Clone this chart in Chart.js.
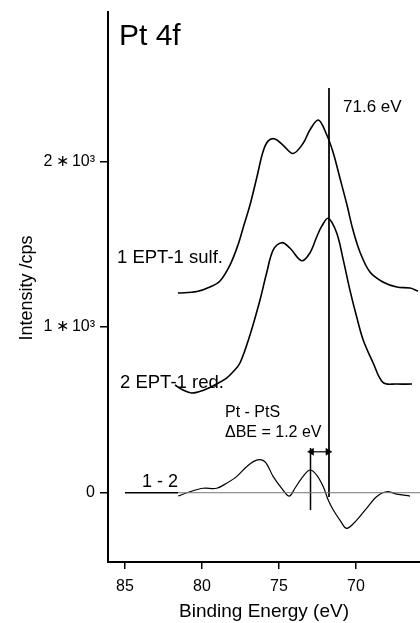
<!DOCTYPE html>
<html>
<head>
<meta charset="utf-8">
<script src="https://cdn.jsdelivr.net/npm/chart.js@4"></script>
<style>
  body { margin: 0; background: #fff; }
  #wrap { width: 420px; height: 623px; }
</style>
</head>
<body>
<div id="wrap"><canvas id="chart" width="420" height="623"></canvas></div>
<script>
// binding energy (eV) and intensity (cps)
const sulfE = [81.56, 80.32, 79.48, 78.83, 78.18, 77.66, 77.27, 76.88, 76.43, 76.04, 75.71, 75.26, 74.74, 74.09, 73.44, 72.99, 72.44, 71.92, 71.49, 71.04, 70.58, 70.19, 69.74, 69.09, 68.25, 67.34, 66.49, 65.97];
const sulfI = [1205, 1214, 1241, 1278, 1374, 1495, 1616, 1736, 1905, 2056, 2122, 2135, 2098, 2047, 2107, 2189, 2249, 2165, 2056, 1899, 1736, 1585, 1453, 1332, 1272, 1241, 1235, 1217];

const redE = [81.75, 81.23, 80.67, 79.94, 79.05, 78.40, 77.99, 77.53, 76.88, 76.23, 75.80, 75.37, 74.82, 74.29, 73.53, 72.99, 72.55, 72.21, 71.80, 71.25, 70.82, 70.39, 69.95, 69.53, 68.88, 68.23, 67.36, 66.36];
const redI = [650, 620, 602, 617, 656, 692, 728, 783, 952, 1163, 1326, 1465, 1509, 1477, 1400, 1447, 1543, 1610, 1656, 1567, 1404, 1223, 1060, 922, 783, 664, 656, 656];

const diffE = [81.54, 80.78, 79.92, 79.05, 78.40, 77.75, 77.10, 76.45, 75.91, 75.37, 74.82, 74.33, 73.96, 73.53, 72.99, 72.55, 72.12, 71.80, 71.47, 71.04, 70.60, 69.95, 69.31, 68.66, 68.01, 67.36, 66.49];
const diffI = [-20, 6, 27, 27, 57, 97, 157, 197, 187, 97, 27, -20, 27, 87, 137, 107, 36, -44, -104, -165, -215, -165, -94, -24, 6, -8, -20];

// reference lines
const zeroLeftE = [85, 81.55];
const zeroRightE = [81.55, 65.84];
const zeroI = [0, 0];
const ptE = [71.75, 71.75];     // 71.6 eV marker
const ptI = [2442, -26];
const ptsE = [72.95, 72.95];    // PtS marker
const ptsI = [270, -104];
const dbeE = [72.88, 71.82];
const dbeI = [247, 247];

const xTicks = [85, 80, 75, 70];
const yTicks = [0, 1000, 2000];
const yTickLabels = { 0: '0', 1000: '1\u2009\u2217\u200910\u00b3', 2000: '2\u2009\u2217\u200910\u00b3' };

const pts = (xs, ys) => xs.map((x, i) => ({ x: x, y: ys[i] }));
const FONT = '"Liberation Sans", Arial, Helvetica, sans-serif';

let curve = (data, width) => ({
  data: data, showLine: true, borderColor: '#000', borderWidth: width,
  pointRadius: 0, tension: 0.35, fill: false
});

let rule = (data, color, width) => ({
  data: data, showLine: true, borderColor: color, borderWidth: width,
  pointRadius: 0, tension: 0, fill: false
});

const labels = {
  id: 'labels',
  afterDraw(chart) {
    const c = chart.ctx;
    c.save();
    c.fillStyle = '#000';
    c.textBaseline = 'alphabetic';
    c.textAlign = 'left';
    let put = (txt, x, y, size) => {
      c.font = size + 'px ' + FONT;
      c.fillText(txt, x, y);
    };
    put('Pt 4f', 119, 45, 30);
    put('71.6 eV', 343, 112, 17);
    put('1 EPT-1 sulf.', 117, 263, 18.5);
    put('2 EPT-1 red.', 120, 388, 18.5);
    put('Pt - PtS', 225, 417, 16);
    put('\u0394BE = 1.2 eV', 225, 437, 16);
    put('1 - 2', 142, 487, 18);

    c.textAlign = 'center';
    put('Binding Energy (eV)', 264, 617, 19);
    c.translate(32, 288);
    c.rotate(-Math.PI / 2);
    put('Intensity /cps', 0, 0, 18);
    c.restore();
  }
};

new Chart(document.getElementById('chart'), {
  type: 'scatter',
  data: {
    datasets: [
      rule(pts(zeroLeftE, zeroI), '#000', 1.3),
      rule(pts(zeroRightE, zeroI), '#777', 1),
      rule(pts(ptE, ptI), '#000', 1),
      rule(pts(ptsE, ptsI), '#000', 1.5),
      Object.assign(rule(pts(dbeE, dbeI), '#000', 1.2), {
        pointRadius: 4, pointStyle: 'triangle', pointRotation: [270, 90],
        pointBackgroundColor: '#000', pointBorderColor: '#000', pointBorderWidth: 0.5
      }),
      curve(pts(sulfE, sulfI), 1.6),
      curve(pts(redE, redI), 1.6),
      curve(pts(diffE, diffI), 1.2)
    ]
  },
  options: {
    responsive: false,
    animation: false,
    layout: { autoPadding: false, padding: { top: 12, right: 0, left: 0, bottom: 0 } },
    plugins: { legend: { display: false }, tooltip: { enabled: false } },
    scales: {
      x: {
        type: 'linear', reverse: true, min: 65.84, max: 86.1,
        afterFit: s => { s.height = 61; s.paddingLeft = 0; s.paddingRight = 0; },
        afterBuildTicks: s => { s.ticks = xTicks.map(v => ({ value: v })); },
        grid: { drawOnChartArea: false, drawTicks: true, tickLength: 7, color: '#000', lineWidth: 1.5 },
        border: { display: true, color: '#000', width: 2 },
        ticks: { color: '#000', padding: 8, font: { family: FONT, size: 16 }, maxRotation: 0 }
      },
      y: {
        type: 'linear', min: -418, max: 2901,
        afterFit: s => { s.width = 108; s.paddingTop = 0; s.paddingBottom = 0; },
        afterBuildTicks: s => { s.ticks = yTicks.map(v => ({ value: v })); },
        grid: { drawOnChartArea: false, drawTicks: true, tickLength: 8, color: '#000', lineWidth: 1.5 },
        border: { display: true, color: '#000', width: 2 },
        ticks: {
          color: '#000', padding: 5, font: { family: FONT, size: 16 },
          callback: v => yTickLabels[v]
        }
      }
    }
  },
  plugins: [labels]
});
</script>
</body>
</html>
